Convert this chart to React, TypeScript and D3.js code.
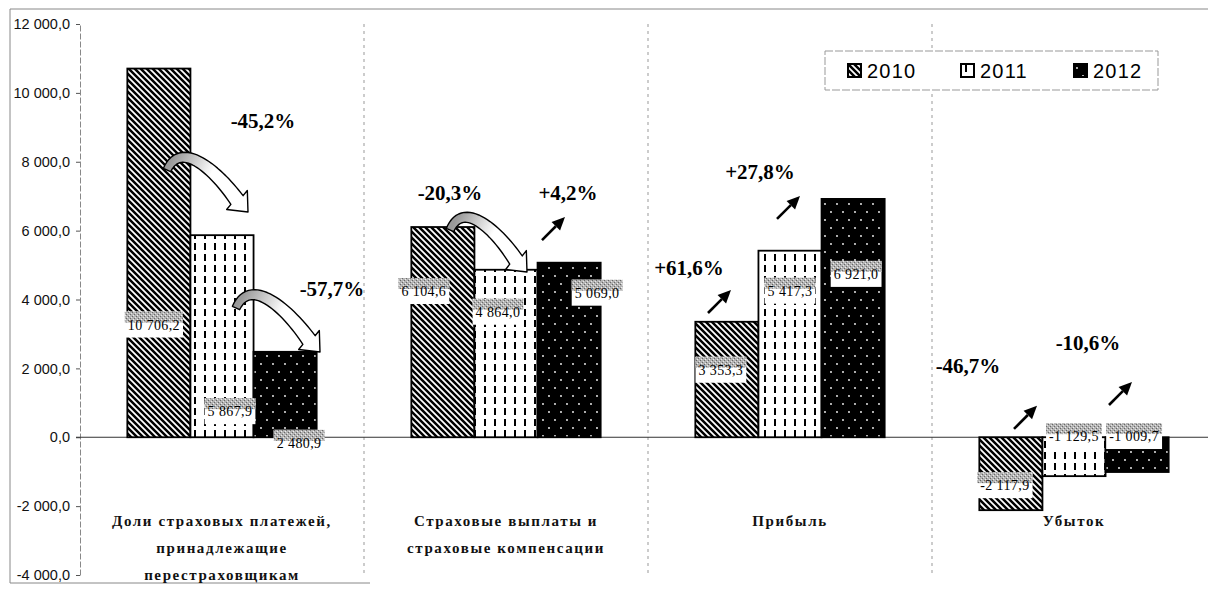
import React, { Component } from 'react';
import * as d3 from 'd3';

const categories = [
  ['Доли страховых платежей,', 'принадлежащие', 'перестраховщикам'],
  ['Страховые выплаты и', 'страховые компенсации'],
  ['Прибыль'],
  ['Убыток'],
];
const years = ['2010', '2011', '2012'];
const values2010 = [10706.2, 6104.6, 3353.3, -2117.9];
const values2011 = [5867.9, 4864.0, 5417.3, -1129.5];
const values2012 = [2480.9, 5069.0, 6921.0, -1009.7];
const yTicks = [-4000, -2000, 0, 2000, 4000, 6000, 8000, 10000, 12000];
const changeLabels = ['-45,2%', '-57,7%', '-20,3%', '+4,2%', '+61,6%', '+27,8%', '-46,7%', '-10,6%'];

// layout of the hand-placed notes: [category, dx in band, y value]
const changeSpots = [[0, 183, 8980], [0, 252, 4100], [1, 86, 6890], [1, 204, 6890], [2, 41, 4710], [2, 112, 7500], [3, 36, 1866], [3, 156, 2534]];
const upArrows = [[1, 201, 6394], [2, 83, 4276], [2, 152, 7007], [3, 105, 912], [3, 200, 1604]];
// [category, start dx, start value, tip dx, tip value]
const bendArrows = [[0, 87, 7760, 168, 6540], [0, 156, 3753, 240, 2475], [1, 86, 6018, 163, 4798]];
// value label nudges (px) from bar centre / bar end
const labelNudge = [
  [[-5, 256], [-19, 64], [-6, 48], [-6, -25]],
  [[8, 176], [-8, 42], [0, 40], [0, -40]],
  [[14, 91], [28, 30], [3, 75], [-3, -36]],
];

const ru = d3.formatLocale({ decimal: ',', thousands: '\u00a0', grouping: [3], currency: ['', ''], minus: '-' });
const fmt = ru.format(',.1f');

export default class App extends Component {
  ref = React.createRef<HTMLDivElement>();

  componentDidMount() {
    this.draw();
  }

  draw() {
    const width = 1208;
    const height = 590;
    const series = [values2010, values2011, values2012];

    const root = d3.select(this.ref.current);
    root.selectAll('*').remove();
    const svg = root
      .append('svg')
      .attr('width', width)
      .attr('height', height)
      .style('display', 'block')
      .style('background', '#fff');

    const defs = svg.append('defs');
    const p0 = defs.append('pattern').attr('id', 'h2010').attr('patternUnits', 'userSpaceOnUse').attr('width', 6).attr('height', 6);
    p0.append('rect').attr('width', 6).attr('height', 6).attr('fill', '#fff');
    p0.append('path').attr('d', 'M-1,-1L7,7M-1,5L1,7M5,-1L7,1').attr('stroke', '#000').attr('stroke-width', 2.5);

    const p1 = defs.append('pattern').attr('id', 'h2011').attr('patternUnits', 'userSpaceOnUse').attr('width', 10).attr('height', 11);
    p1.append('rect').attr('width', 10).attr('height', 11).attr('fill', '#fff');
    p1.append('rect').attr('x', 4).attr('y', 1).attr('width', 2).attr('height', 7).attr('fill', '#000');

    const p2 = defs.append('pattern').attr('id', 'h2012').attr('patternUnits', 'userSpaceOnUse').attr('width', 12).attr('height', 16);
    p2.append('rect').attr('width', 12).attr('height', 16).attr('fill', '#000');
    p2.append('circle').attr('cx', 3).attr('cy', 4).attr('r', 0.9).attr('fill', '#fff');
    p2.append('circle').attr('cx', 9).attr('cy', 12).attr('r', 0.9).attr('fill', '#fff');

    const sp = defs.append('pattern').attr('id', 'speck').attr('patternUnits', 'userSpaceOnUse').attr('width', 4).attr('height', 4);
    sp.append('rect').attr('width', 4).attr('height', 4).attr('fill', '#b3b3b3');
    sp.append('rect').attr('x', 0).attr('y', 0).attr('width', 1).attr('height', 1).attr('fill', '#666');
    sp.append('rect').attr('x', 2).attr('y', 2).attr('width', 1).attr('height', 1).attr('fill', '#6a6a6a');
    sp.append('rect').attr('x', 1).attr('y', 3).attr('width', 1).attr('height', 1).attr('fill', '#eee');
    sp.append('rect').attr('x', 3).attr('y', 1).attr('width', 1).attr('height', 1).attr('fill', '#e6e6e6');

    const y = d3.scaleLinear().domain([-4000, 12000]).range([575, 24]);
    const x0 = d3.scaleBand<number>().domain(d3.range(categories.length)).range([80, 1216]);
    const x1 = d3.scaleBand<string>().domain(years).range([0, x0.bandwidth()]).paddingInner(0).paddingOuter(0.75);

    // outer frame (scanned chart area border)
    svg.append('path').attr('d', `M10,583V9H${width}`).attr('fill', 'none').attr('stroke', '#888');
    svg.append('line').attr('x1', 10).attr('x2', 370).attr('y1', 583).attr('y2', 583).attr('stroke', '#888');

    // category separators
    svg
      .selectAll('line.sep')
      .data(d3.range(1, categories.length))
      .join('line')
      .attr('x1', (d) => x0(d)!)
      .attr('x2', (d) => x0(d)!)
      .attr('y1', y(12000))
      .attr('y2', y(-4000))
      .attr('stroke', '#999')
      .attr('stroke-dasharray', '3,4');

    const axis = svg
      .append('g')
      .attr('transform', 'translate(80,0)')
      .call(
        d3
          .axisLeft(y)
          .tickValues(yTicks)
          .tickSize(4)
          .tickSizeOuter(0)
          .tickPadding(6)
          .tickFormat((d) => fmt(d as number))
      );
    axis.select('.domain').attr('stroke', '#888').attr('stroke-dasharray', '6,2');
    axis.selectAll('.tick line').attr('stroke', '#555');
    axis
      .selectAll('text')
      .attr('font-family', 'Liberation Sans, Arial, sans-serif')
      .attr('font-size', 14.5)
      .attr('fill', '#111');

    svg.append('line').attr('x1', 76).attr('x2', width).attr('y1', y(0)).attr('y2', y(0)).attr('stroke', '#333');

    // bars
    years.forEach((yr, j) => {
      svg
        .append('g')
        .selectAll('rect')
        .data(series[j])
        .join('rect')
        .attr('x', (d, i) => x0(i)! + x1(yr)!)
        .attr('y', (d) => y(Math.max(0, d)))
        .attr('width', x1.bandwidth())
        .attr('height', (d) => Math.abs(y(d) - y(0)))
        .attr('fill', `url(#h${yr})`)
        .attr('stroke', '#000')
        .attr('stroke-width', 1.8);
    });

    // bent block arrows
    bendArrows.forEach((a, k) => {
      const sx = x0(a[0])! + a[1];
      const sy = y(a[2]);
      const tx = x0(a[0])! + a[3];
      const ty = y(a[4]);
      const dx = tx - sx;
      const dy = ty - sy;
      const c1 = [sx + 0.18 * dx, sy - 0.75 * dy];
      const c2 = [sx + 0.62 * dx, sy + 0.05 * dy];
      const e = [tx - 11, ty - 12];
      const bez = (t: number) => {
        const u = 1 - t;
        return [
          u * u * u * sx + 3 * u * u * t * c1[0] + 3 * u * t * t * c2[0] + t * t * t * e[0],
          u * u * u * sy + 3 * u * u * t * c1[1] + 3 * u * t * t * c2[1] + t * t * t * e[1],
        ];
      };
      const n = 30;
      const left: number[][] = [];
      const right: number[][] = [];
      for (let i = 0; i <= n; i++) {
        const t = i / n;
        const p = bez(t);
        const q = bez(Math.min(1, t + 0.01));
        const r = bez(Math.max(0, t - 0.01));
        let tgx = q[0] - r[0];
        let tgy = q[1] - r[1];
        const len = Math.hypot(tgx, tgy) || 1;
        tgx /= len;
        tgy /= len;
        const w = 4 + 3.5 * t;
        left.push([p[0] + tgy * w, p[1] - tgx * w]);
        right.push([p[0] - tgy * w, p[1] + tgx * w]);
      }
      const hl = Math.hypot(tx - e[0], ty - e[1]);
      const ux = (tx - e[0]) / hl;
      const uy = (ty - e[1]) / hl;
      const hw = 14;
      const head = [
        [e[0] + uy * hw, e[1] - ux * hw],
        [tx, ty],
        [e[0] - uy * hw, e[1] + ux * hw],
      ];
      const pts = [...left, ...head, ...right.reverse()];
      const g = defs
        .append('linearGradient')
        .attr('id', `bend${k}`)
        .attr('gradientUnits', 'userSpaceOnUse')
        .attr('x1', sx)
        .attr('y1', sy)
        .attr('x2', tx)
        .attr('y2', ty);
      g.append('stop').attr('offset', 0).attr('stop-color', '#999');
      g.append('stop').attr('offset', 0.3).attr('stop-color', '#ddd');
      g.append('stop').attr('offset', 0.45).attr('stop-color', '#fff');
      svg
        .append('path')
        .attr('d', `M${pts.map((p) => p.join(',')).join('L')}Z`)
        .attr('fill', `url(#bend${k})`)
        .attr('stroke', '#000')
        .attr('stroke-width', 1.4)
        .attr('stroke-linejoin', 'round');
    });

    // straight arrows
    upArrows.forEach((a) => {
      const hx = x0(a[0])! + a[1];
      const hy = y(a[2]);
      const tx = hx - 23;
      const ty = hy + 23;
      const u = Math.SQRT1_2;
      const bx = hx - u * 13;
      const by = hy + u * 13;
      svg.append('line').attr('x1', tx).attr('y1', ty).attr('x2', bx).attr('y2', by).attr('stroke', '#000').attr('stroke-width', 2.6);
      svg
        .append('path')
        .attr('d', `M${hx},${hy}L${bx + u * 6},${by + u * 6}L${bx - u * 6},${by - u * 6}Z`)
        .attr('fill', '#000');
    });

    // percent notes
    svg
      .selectAll('text.chg')
      .data(changeLabels)
      .join('text')
      .attr('x', (d, i) => x0(changeSpots[i][0])! + changeSpots[i][1])
      .attr('y', (d, i) => y(changeSpots[i][2]))
      .attr('text-anchor', 'middle')
      .attr('font-family', 'Liberation Serif, Times New Roman, serif')
      .attr('font-weight', 'bold')
      .attr('font-size', 21)
      .attr('fill', '#000')
      .text((d) => d);

    // value labels
    years.forEach((yr, j) => {
      series[j].forEach((v, i) => {
        const cx = x0(i)! + x1(yr)! + x1.bandwidth() / 2 + labelNudge[j][i][0];
        const cy = y(v) + labelNudge[j][i][1];
        const g = svg.append('g');
        const box = g.append('rect');
        const band = g.append('rect');
        const t = g
          .append('text')
          .attr('x', cx)
          .attr('y', cy + 5)
          .attr('text-anchor', 'middle')
          .attr('font-family', 'Liberation Serif, Times New Roman, serif')
          .attr('font-size', 14)
          .attr('letter-spacing', 0.4)
          .attr('fill', '#000')
          .text(fmt(v));
        const tw = (t.node() as SVGTextElement).getComputedTextLength() + 6;
        box.attr('x', cx - tw / 2).attr('y', cy - 13).attr('width', tw).attr('height', 26).attr('fill', '#fff');
        band.attr('x', cx - tw / 2).attr('y', cy - 13).attr('width', tw).attr('height', 11).attr('fill', 'url(#speck)');
      });
    });

    // category labels
    categories.forEach((lines, i) => {
      svg
        .append('text')
        .attr('text-anchor', 'middle')
        .attr('font-family', 'Liberation Serif, Times New Roman, serif')
        .attr('font-weight', 'bold')
        .attr('font-size', 15)
        .attr('letter-spacing', 1.6)
        .attr('fill', '#111')
        .selectAll('tspan')
        .data(lines)
        .join('tspan')
        .attr('x', x0(i)! + x0.bandwidth() / 2)
        .attr('y', (d, k) => 526 + k * 27)
        .text((d) => d);
    });

    // legend
    const lg = svg.append('g').attr('transform', 'translate(825,51)');
    lg.append('rect').attr('width', 333).attr('height', 39).attr('fill', '#fff').attr('stroke', '#999').attr('stroke-dasharray', '8,2');
    const item = lg
      .selectAll('g.item')
      .data(years)
      .join('g')
      .attr('transform', (d, i) => `translate(${23 + i * 113},13)`);
    item
      .append('rect')
      .attr('width', 13)
      .attr('height', 13)
      .attr('fill', (d) => `url(#h${d})`)
      .attr('stroke', '#000')
      .attr('stroke-width', 2);
    item
      .append('text')
      .attr('x', 19)
      .attr('y', 13.5)
      .attr('font-family', 'Liberation Sans, Arial, sans-serif')
      .attr('font-size', 20)
      .attr('letter-spacing', 1.2)
      .attr('fill', '#000')
      .text((d) => d);
  }

  render() {
    return <div ref={this.ref} style={{ position: 'absolute', left: 0, top: 0 }} />;
  }
}
